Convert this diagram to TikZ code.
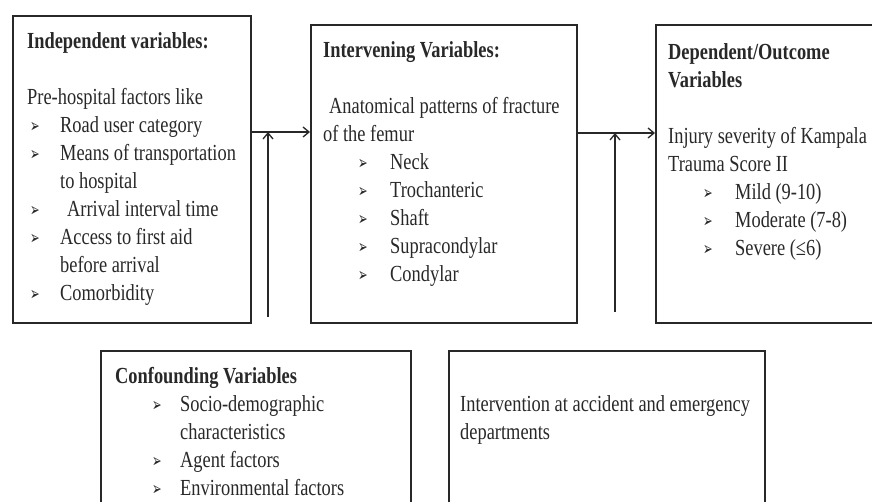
\documentclass[tikz,border=0pt]{standalone}
\usepackage{graphicx}
\usepackage{fontspec}
\setmainfont{Liberation Serif}[FakeStretch=0.8]
\newfontfamily\symfont{DejaVu Sans}
\usetikzlibrary{arrows.meta}
\definecolor{ink}{RGB}{40,40,40}
\newcommand{\arrowbul}{\scalebox{0.6}[1]{\symfont\fontsize{19}{19}\selectfont ➢}}
\newcommand{\fitem}[3]{\hspace*{#1}\makebox[#2][l]{\arrowbul}#3}

\begin{document}
\begin{tikzpicture}[x=1pt, y=-1pt,
  frame/.style={draw=ink, line width=1.6pt, anchor=north west, inner sep=0pt},
  body/.style={anchor=north west, inner sep=0pt, align=left, text=ink, font=\fontsize{23}{28}\selectfont},
  link/.style={draw=ink, line width=1.3pt, -{Straight Barb[length=6pt,width=10pt]}}]
\useasboundingbox (0,0) rectangle (872,502);
\clip (0,0) rectangle (872,502);

\node[frame, minimum width=238pt, minimum height=307pt] (ind) at (12,15) {};
\node[frame, minimum width=266pt, minimum height=298pt] (intv) at (310,24) {};
\node[frame, minimum width=240pt, minimum height=298pt] (dep) at (655,24) {};
\node[frame, minimum width=310pt, minimum height=180pt] (conf) at (100,350) {};
\node[frame, minimum width=316pt, minimum height=180pt] (aed) at (448,350) {};

\node[body] (indtxt) at ([shift={(15,14)}]ind.north west) {\strut\textbf{Independent variables:}\\[28pt]
Pre-hospital factors like\\
\fitem{3pt}{30pt}{Road user category}\\
\fitem{3pt}{30pt}{Means of transportation}\\
\hspace*{33pt}to hospital\\
\fitem{3pt}{30pt}{\hspace{7pt}Arrival interval time}\\
\fitem{3pt}{30pt}{Access to first aid}\\
\hspace*{33pt}before arrival\\
\fitem{3pt}{30pt}{Comorbidity}};

\node[body] (intvtxt) at ([shift={(13,14)}]intv.north west) {\strut\textbf{Intervening Variables:}\\[28pt]
\hspace*{6pt}Anatomical patterns of fracture\\
of the femur\\
\fitem{35pt}{32pt}{Neck}\\
\fitem{35pt}{32pt}{Trochanteric}\\
\fitem{35pt}{32pt}{Shaft}\\
\fitem{35pt}{32pt}{Supracondylar}\\
\fitem{35pt}{32pt}{Condylar}};

\node[body] (deptxt) at ([shift={(13,16)}]dep.north west) {\strut\textbf{Dependent/Outcome}\\
\textbf{Variables}\\[28pt]
Injury severity of Kampala\\
Trauma Score II\\
\fitem{35pt}{32pt}{Mild (9-10)}\\
\fitem{35pt}{32pt}{Moderate (7-8)}\\
\fitem{35pt}{32pt}{Severe (≤6)}};

\node[body] (conftxt) at ([shift={(15,14)}]conf.north west) {\strut\textbf{Confounding Variables}\\
\fitem{37pt}{28pt}{Socio-demographic}\\
\hspace*{65pt}characteristics\\
\fitem{37pt}{28pt}{Agent factors}\\
\fitem{37pt}{28pt}{Environmental factors}};

\node[body] (aedtxt) at ([shift={(12,42)}]aed.north west) {\strut Intervention at accident and emergency\\
departments};

\coordinate (j1) at (268,132);
\coordinate (c1) at (268,317);
\coordinate (j2) at (615,133);
\coordinate (c2) at (615,312);
\draw[link] (ind.east |- j1) -- (intv.west |- j1);
\draw[link] (c1) -- (j1);
\draw[link] (intv.east |- j2) -- (dep.west |- j2);
\draw[link] (c2) -- (j2);
\end{tikzpicture}
\end{document}
